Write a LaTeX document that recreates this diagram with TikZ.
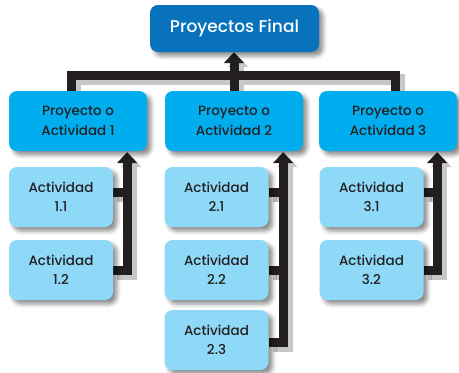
\documentclass[tikz,border=0pt]{standalone}
\usepackage{fontspec}
\setmainfont{Poppins}[UprightFont=* Medium]
\usetikzlibrary{arrows.meta,shadows.blur,backgrounds,calc}
\definecolor{topblue}{HTML}{0872BD}
\definecolor{midblue}{HTML}{00AEEF}
\definecolor{lightblue}{HTML}{8ED8F8}
\definecolor{ink}{HTML}{231F20}
\newcommand\drawconns[1]{%
  \draw[#1] (bl |- p1.north) -- (bl) -- (br) -- (br |- p3.north);
  \draw[#1,tipped] (p2.north) -- (p2.north |- top.south);
  \draw[#1,tipped] (a12.east) -| (c1);
  \draw[#1] (h11) -- (h11 -| c1);
  \draw[#1,tipped] (h23) -| (c2);
  \draw[#1] (h21) -- (h21 -| c2);
  \draw[#1] (a22.east) -- (a22.east -| c2);
  \draw[#1,tipped] (a32.east) -| (c3);
  \draw[#1] (h31) -- (h31 -| c3);
}
\begin{document}
\begin{tikzpicture}[x=1pt,y=-1pt,
  box/.style={rounded corners=8pt, align=center, inner sep=0pt,
    blur shadow={shadow xshift=4pt,shadow yshift=-4pt,shadow blur radius=4pt,shadow opacity=45}},
  topbox/.style={box, fill=topblue, text=white, minimum width=169pt, minimum height=47pt,
    font=\fontsize{17}{21}\selectfont},
  projbox/.style={box, fill=midblue, text=ink, minimum width=138pt, minimum height=60pt,
    font=\fontsize{13.5}{19.5}\selectfont},
  actbox/.style={box, fill=lightblue, text=ink, minimum width=104pt, minimum height=60pt,
    font=\fontsize{13.5}{19.5}\selectfont},
  conn/.style={draw=ink, line width=9pt, line join=miter},
  connshadow/.style={draw=black!22, line width=11pt, line join=miter,
    transform canvas={shift={(4pt,-4pt)}}},
  tipped/.style={-{Triangle[width=20pt,length=11pt]}}]
\useasboundingbox (0,0) rectangle (459,373);
\node[topbox] (top) at (234.5,28.5) {Proyectos Final};
\node[projbox] (p1) at (78,121) {Proyecto o\\Actividad 1};
\node[projbox] (p2) at (234,121) {Proyecto o\\Actividad 2};
\node[projbox] (p3) at (388,121) {Proyecto o\\Actividad 3};
\node[actbox] (a11) at (61,197) {Actividad\\1.1};
\node[actbox] (a12) at (61,270) {Actividad\\1.2};
\node[actbox] (a21) at (216.5,197) {Actividad\\2.1};
\node[actbox] (a22) at (216.5,270) {Actividad\\2.2};
\node[actbox] (a23) at (216.5,340) {Actividad\\2.3};
\node[actbox] (a31) at (371.5,197) {Actividad\\3.1};
\node[actbox] (a32) at (371.5,270) {Actividad\\3.2};
\coordinate (bl) at (71,75);
\coordinate (br) at (395,75);
\coordinate (c1) at ($(p1.south east)+(-20,1)$);
\coordinate (c2) at ($(p2.south east)+(-20,1)$);
\coordinate (c3) at ($(p3.south east)+(-20,1)$);
\coordinate (h11) at ($(a11.east)+(0,-5)$);
\coordinate (h21) at ($(a21.east)+(0,-5)$);
\coordinate (h31) at ($(a31.east)+(0,-5)$);
\coordinate (h23) at ($(a23.east)+(0,2)$);
\begin{scope}[on background layer]
  \drawconns{connshadow}
  \drawconns{conn}
\end{scope}
\end{tikzpicture}
\end{document}
